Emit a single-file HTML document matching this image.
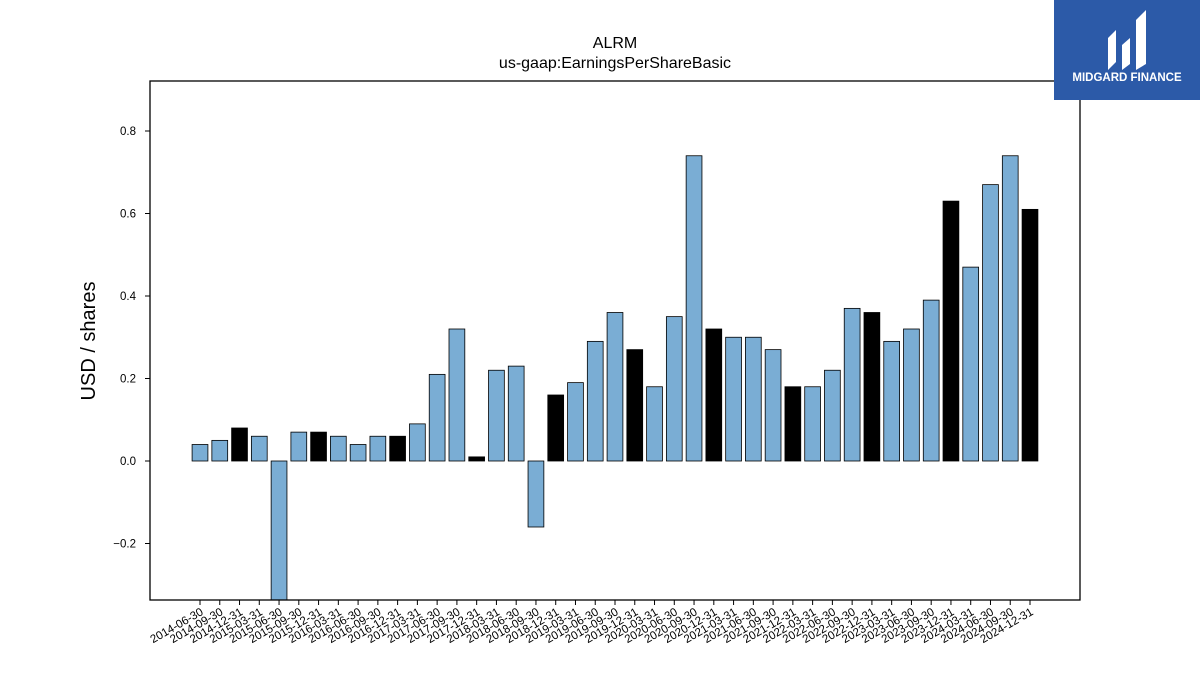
<!DOCTYPE html>
<html><head><meta charset="utf-8"><style>
body{margin:0;background:#fff;width:1200px;height:675px;overflow:hidden;font-family:"Liberation Sans",sans-serif}
</style></head><body>
<svg width="1200" height="675">
<text x="615" y="48" text-anchor="middle" font-size="16">ALRM</text>
<text x="615" y="68" text-anchor="middle" font-size="16">us-gaap:EarningsPerShareBasic</text>
<text transform="translate(95,341) rotate(-90)" text-anchor="middle" font-size="20">USD / shares</text>
<defs><clipPath id="pc"><rect x="150" y="81" width="930" height="519"/></clipPath></defs>
<g id="bars" clip-path="url(#pc)"></g>
<g id="yt"></g><g id="xt"></g>
<rect x="150" y="81" width="930" height="519" fill="none" stroke="#000" stroke-width="1.3"/>
<g>
<rect x="1054" y="0" width="146" height="100" fill="#2c5aa8"/>
<path d="M1108 70 V38 L1116 30 V62 Z M1122 70 V45 L1130 38 V64 Z M1136 70 V20 L1146 10 V64 Z" fill="#fff"/>
<text x="1127" y="81" text-anchor="middle" font-size="11.5" font-weight="bold" fill="#fff">MIDGARD FINANCE</text>
</g>
</svg>
<script>
const categories=["2014-06-30","2014-09-30","2014-12-31","2015-03-31","2015-06-30","2015-09-30","2015-12-31","2016-03-31","2016-06-30","2016-09-30","2016-12-31","2017-03-31","2017-06-30","2017-09-30","2017-12-31","2018-03-31","2018-06-30","2018-09-30","2018-12-31","2019-03-31","2019-06-30","2019-09-30","2019-12-31","2020-03-31","2020-06-30","2020-09-30","2020-12-31","2021-03-31","2021-06-30","2021-09-30","2021-12-31","2022-03-31","2022-06-30","2022-09-30","2022-12-31","2023-03-31","2023-06-30","2023-09-30","2023-12-31","2024-03-31","2024-06-30","2024-09-30","2024-12-31"];
const values=[0.04,0.05,0.08,0.06,-0.4,0.07,0.07,0.06,0.04,0.06,0.06,0.09,0.21,0.32,0.01,0.22,0.23,-0.16,0.16,0.19,0.29,0.36,0.27,0.18,0.35,0.74,0.32,0.30,0.30,0.27,0.18,0.18,0.22,0.37,0.36,0.29,0.32,0.39,0.63,0.47,0.67,0.74,0.61];
const yTicks=[-0.2,0,0.2,0.4,0.6,0.8];
const yTickLabels=["\u22120.2","0.0","0.2","0.4","0.6","0.8"];
const NS="http://www.w3.org/2000/svg";
const yS=v=>461-v*412.5;
const step=830/(categories.length-1);
const xS=i=>200+i*step;
const bw=step*0.8;
const bars=document.getElementById('bars'),xt=document.getElementById('xt'),yt=document.getElementById('yt');
function mk(t,a){const e=document.createElementNS(NS,t);for(const k in a)e.setAttribute(k,a[k]);return e;}
categories.forEach((c,i)=>{
 const v=values[i],q4=c.endsWith("12-31");
 const r=mk('rect',{x:xS(i)-bw/2,y:Math.min(yS(v),yS(0)),width:bw,height:Math.abs(yS(v)-yS(0)),fill:q4?'#000':'#7aadd4',stroke:'#000','stroke-width':0.8});
 
 
 bars.appendChild(r);
 const tk=mk('line',{x1:xS(i),x2:xS(i),y1:600,y2:605,stroke:'#000'});
 
 
 xt.appendChild(tk);
 const t=mk('text',{x:xS(i)+4,y:614,'font-size':11.5,'text-anchor':'end',transform:`rotate(-30 ${xS(i)+4} 614)`});
 t.textContent=c;
 
 
 xt.appendChild(t);
});
yTicks.forEach((v,i)=>{
 const tk=mk('line',{x1:145,x2:150,y1:yS(v),y2:yS(v),stroke:'#000'});
 
 
 yt.appendChild(tk);
 const t=mk('text',{x:136,y:yS(v)+4,'font-size':11.5,'text-anchor':'end'});
 t.textContent=yTickLabels[i];
 
 
 yt.appendChild(t);
});
</script>
</body></html>
